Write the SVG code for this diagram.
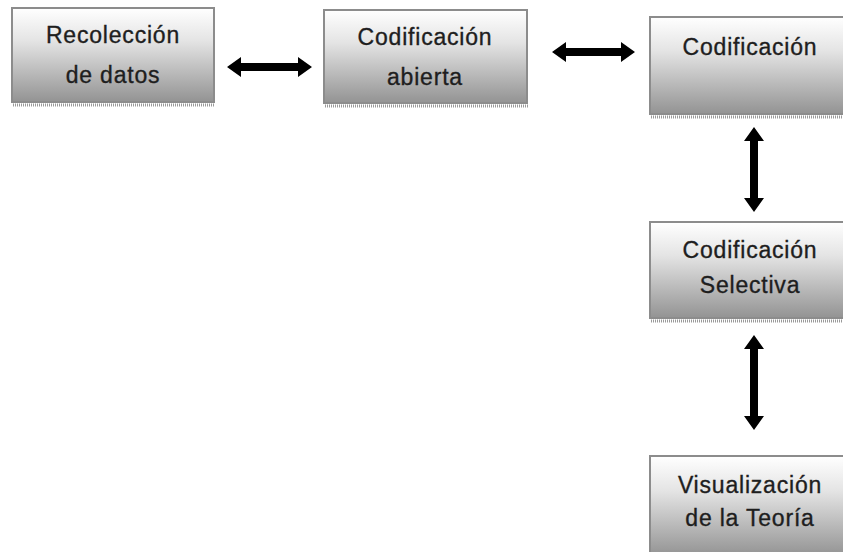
<svg xmlns="http://www.w3.org/2000/svg" width="843" height="552" viewBox="0 0 843 552">
<style>
.box{fill:url(#g);stroke:#8c8c8c;stroke-width:2}
.sh{stroke:#9a9a9a;stroke-width:3;stroke-dasharray:1 1;fill:none}
.t{font-family:"Liberation Sans",Arial,sans-serif;font-size:23px;letter-spacing:0.8px;fill:#1e1e1e;stroke:#1e1e1e;stroke-width:0.35px;text-anchor:middle}
.arr{fill:#000}
</style>
<defs>
<linearGradient id="g" x1="0" y1="0" x2="0" y2="1">
<stop offset="0" stop-color="#ffffff"/>
<stop offset="0.35" stop-color="#e4e4e4"/>
<stop offset="1" stop-color="#939393"/>
</linearGradient>
</defs>
<rect width="843" height="552" fill="#fff"/>
<g id="n1">
<line class="sh" x1="13" y1="105" x2="215" y2="105"/>
<rect class="box" x="12" y="8" width="202" height="94"/>
<text class="t" x="113" y="43">Recolección</text>
<text class="t" x="113" y="83">de datos</text>
</g>
<g id="n2">
<line class="sh" x1="325" y1="106" x2="528" y2="106"/>
<rect class="box" x="324" y="10" width="203" height="93"/>
<text class="t" x="425" y="45">Codificación</text>
<text class="t" x="425" y="85">abierta</text>
</g>
<g id="n3">
<line class="sh" x1="651" y1="117" x2="851" y2="117"/>
<rect class="box" x="650" y="17" width="200" height="97"/>
<text class="t" x="750" y="55">Codificación</text>
</g>
<g id="n4">
<line class="sh" x1="651" y1="321" x2="851" y2="321"/>
<rect class="box" x="650" y="222" width="200" height="96"/>
<text class="t" x="750" y="258">Codificación</text>
<text class="t" x="750" y="293">Selectiva</text>
</g>
<g id="n5">
<rect class="box" x="650" y="456" width="200" height="100"/>
<text class="t" x="750" y="493">Visualización</text>
<text class="t" x="750" y="526">de la Teoría</text>
</g>
<g id="connectors">
<path class="arr" d="M227 67 L241 57 L241 63 L298 63 L298 57 L312 67 L298 77 L298 71 L241 71 L241 77 Z"/>
<path class="arr" d="M552 52 L566 42 L566 48 L621 48 L621 42 L635 52 L621 62 L621 56 L566 56 L566 62 Z"/>
<path class="arr" d="M754 127 L764 141 L758 141 L758 198 L764 198 L754 212 L744 198 L750 198 L750 141 L744 141 Z"/>
<path class="arr" d="M754 335 L764 349 L758 349 L758 416 L764 416 L754 430 L744 416 L750 416 L750 349 L744 349 Z"/>
</g>
</svg>
